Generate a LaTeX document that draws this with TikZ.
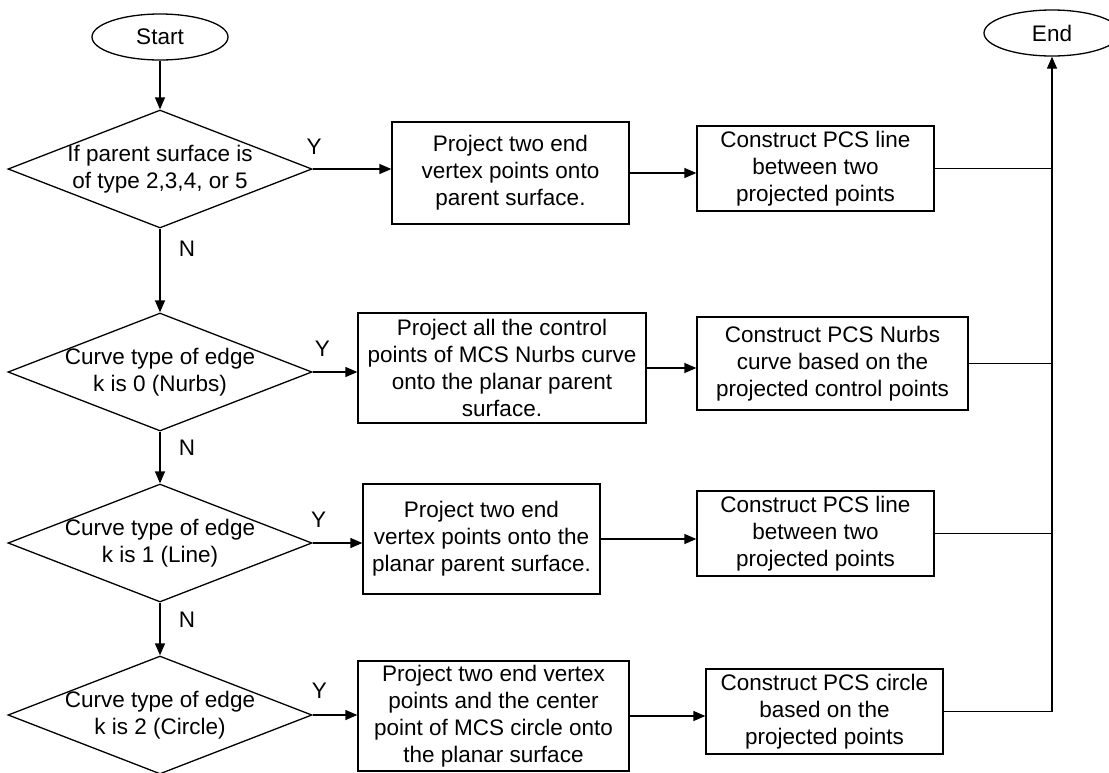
\documentclass[tikz,border=0pt]{standalone}
\usepackage{fontspec}
\setmainfont{Liberation Sans}
\usetikzlibrary{shapes.geometric, arrows.meta}

\begin{document}
\begin{tikzpicture}[x=1pt, y=-1pt, line width=1.3pt,
		>={Triangle[length=12pt, width=10pt]},
		every node/.style={font=\fontsize{22.5}{27}\selectfont},
		terminal/.style={ellipse, draw, inner sep=0pt, minimum width=136pt, minimum height=46pt},
		decision/.style={diamond, draw, aspect=2.58, inner sep=-1.5pt, minimum width=304pt, minimum height=118pt, align=center},
		procbox/.style={rectangle, draw, inner sep=0pt, align=center},
		lbl/.style={inner sep=0pt}]
		
		\useasboundingbox (0,0) rectangle (1109,772);
		\clip (0,0) rectangle (1109,772);
		
		\node[terminal] (start) at (160,37) {Start};
		\node[terminal] (end) at (1052,33) {End};
		
		%%% decisions, left column
		\node[decision] (d1) at (160,169) {If parent surface is\\of type 2,3,4, or 5};
		\node[decision] (d2) at (160,372) {Curve type of edge\\k is 0 (Nurbs)};
		\node[decision] (d3) at (160,543) {Curve type of edge\\k is 1 (Line)};
		\node[decision] (d4) at (160,715) {Curve type of edge\\k is 2 (Circle)};
		
		%%% projection boxes
		\node[procbox, minimum width=237pt, minimum height=102pt] (p1) at (510.5,173) {Project two end\\vertex points onto\\parent surface.};
		\node[procbox, minimum width=288pt, minimum height=110pt] (p2) at (502,368) {Project all the control\\points of MCS Nurbs curve\\onto the planar parent\\surface.};
		\node[procbox, minimum width=237pt, minimum height=110pt] (p3) at (481.5,539) {Project two end\\vertex points onto the\\planar parent surface.};
		\node[procbox, minimum width=271pt, minimum height=110pt] (p4) at (493.5,716) {Project two end vertex\\points and the center\\point of MCS circle onto\\the planar surface};
		
		%%% construction boxes
		\node[procbox, minimum width=237pt, minimum height=85pt] (c1) at (815.5,168.5) {Construct PCS line\\between two\\projected points};
		\node[procbox, minimum width=271pt, minimum height=93pt] (c2) at (832.5,363.5) {Construct PCS Nurbs\\curve based on the\\projected control points};
		\node[procbox, minimum width=237pt, minimum height=85pt] (c3) at (815.5,533.5) {Construct PCS line\\between two\\projected points};
		\node[procbox, minimum width=237pt, minimum height=85pt] (c4) at (824.5,711.5) {Construct PCS circle\\based on the\\projected points};
		
		%%% down the N branch
		\draw[->] (start) -- (d1);
		\draw[->] (d1) -- node[lbl, pos=0.24, xshift=27pt] {N} (d2);
		\draw[->] (d2) -- node[lbl, pos=0.32, xshift=27pt] {N} (d3);
		\draw[->] (d3) -- node[lbl, pos=0.33, xshift=27pt] {N} (d4);
		
		%%% Y branches
		\draw[->] (d1.east) -- node[lbl, pos=0.02, above=14pt] {Y} (d1.east -| p1.west);
		\draw[->] (d2.east) -- node[lbl, pos=0.22, above=15pt] {Y} (d2.east -| p2.west);
		\draw[->] (d3.east) -- node[lbl, pos=0.12, above=15pt] {Y} (d3.east -| p3.west);
		\draw[->] (d4.east) -- node[lbl, pos=0.15, above=16pt] {Y} (d4.east -| p4.west);
		
		\draw[->] (p1.east) -- (p1.east -| c1.west);
		\draw[->] (p2.east) -- (p2.east -| c2.west);
		\draw[->] (p3.east) -- (p3.east -| c3.west);
		\draw[->] (p4.east) -- (p4.east -| c4.west);
		
		%%% collector to End
		\draw (c1.east) -- (c1.east -| end.south);
		\draw (c2.east) -- (c2.east -| end.south);
		\draw (c3.east) -- (c3.east -| end.south);
		\draw[->] (c4.east) -| (end.south);
		
	\end{tikzpicture}
\end{document}
